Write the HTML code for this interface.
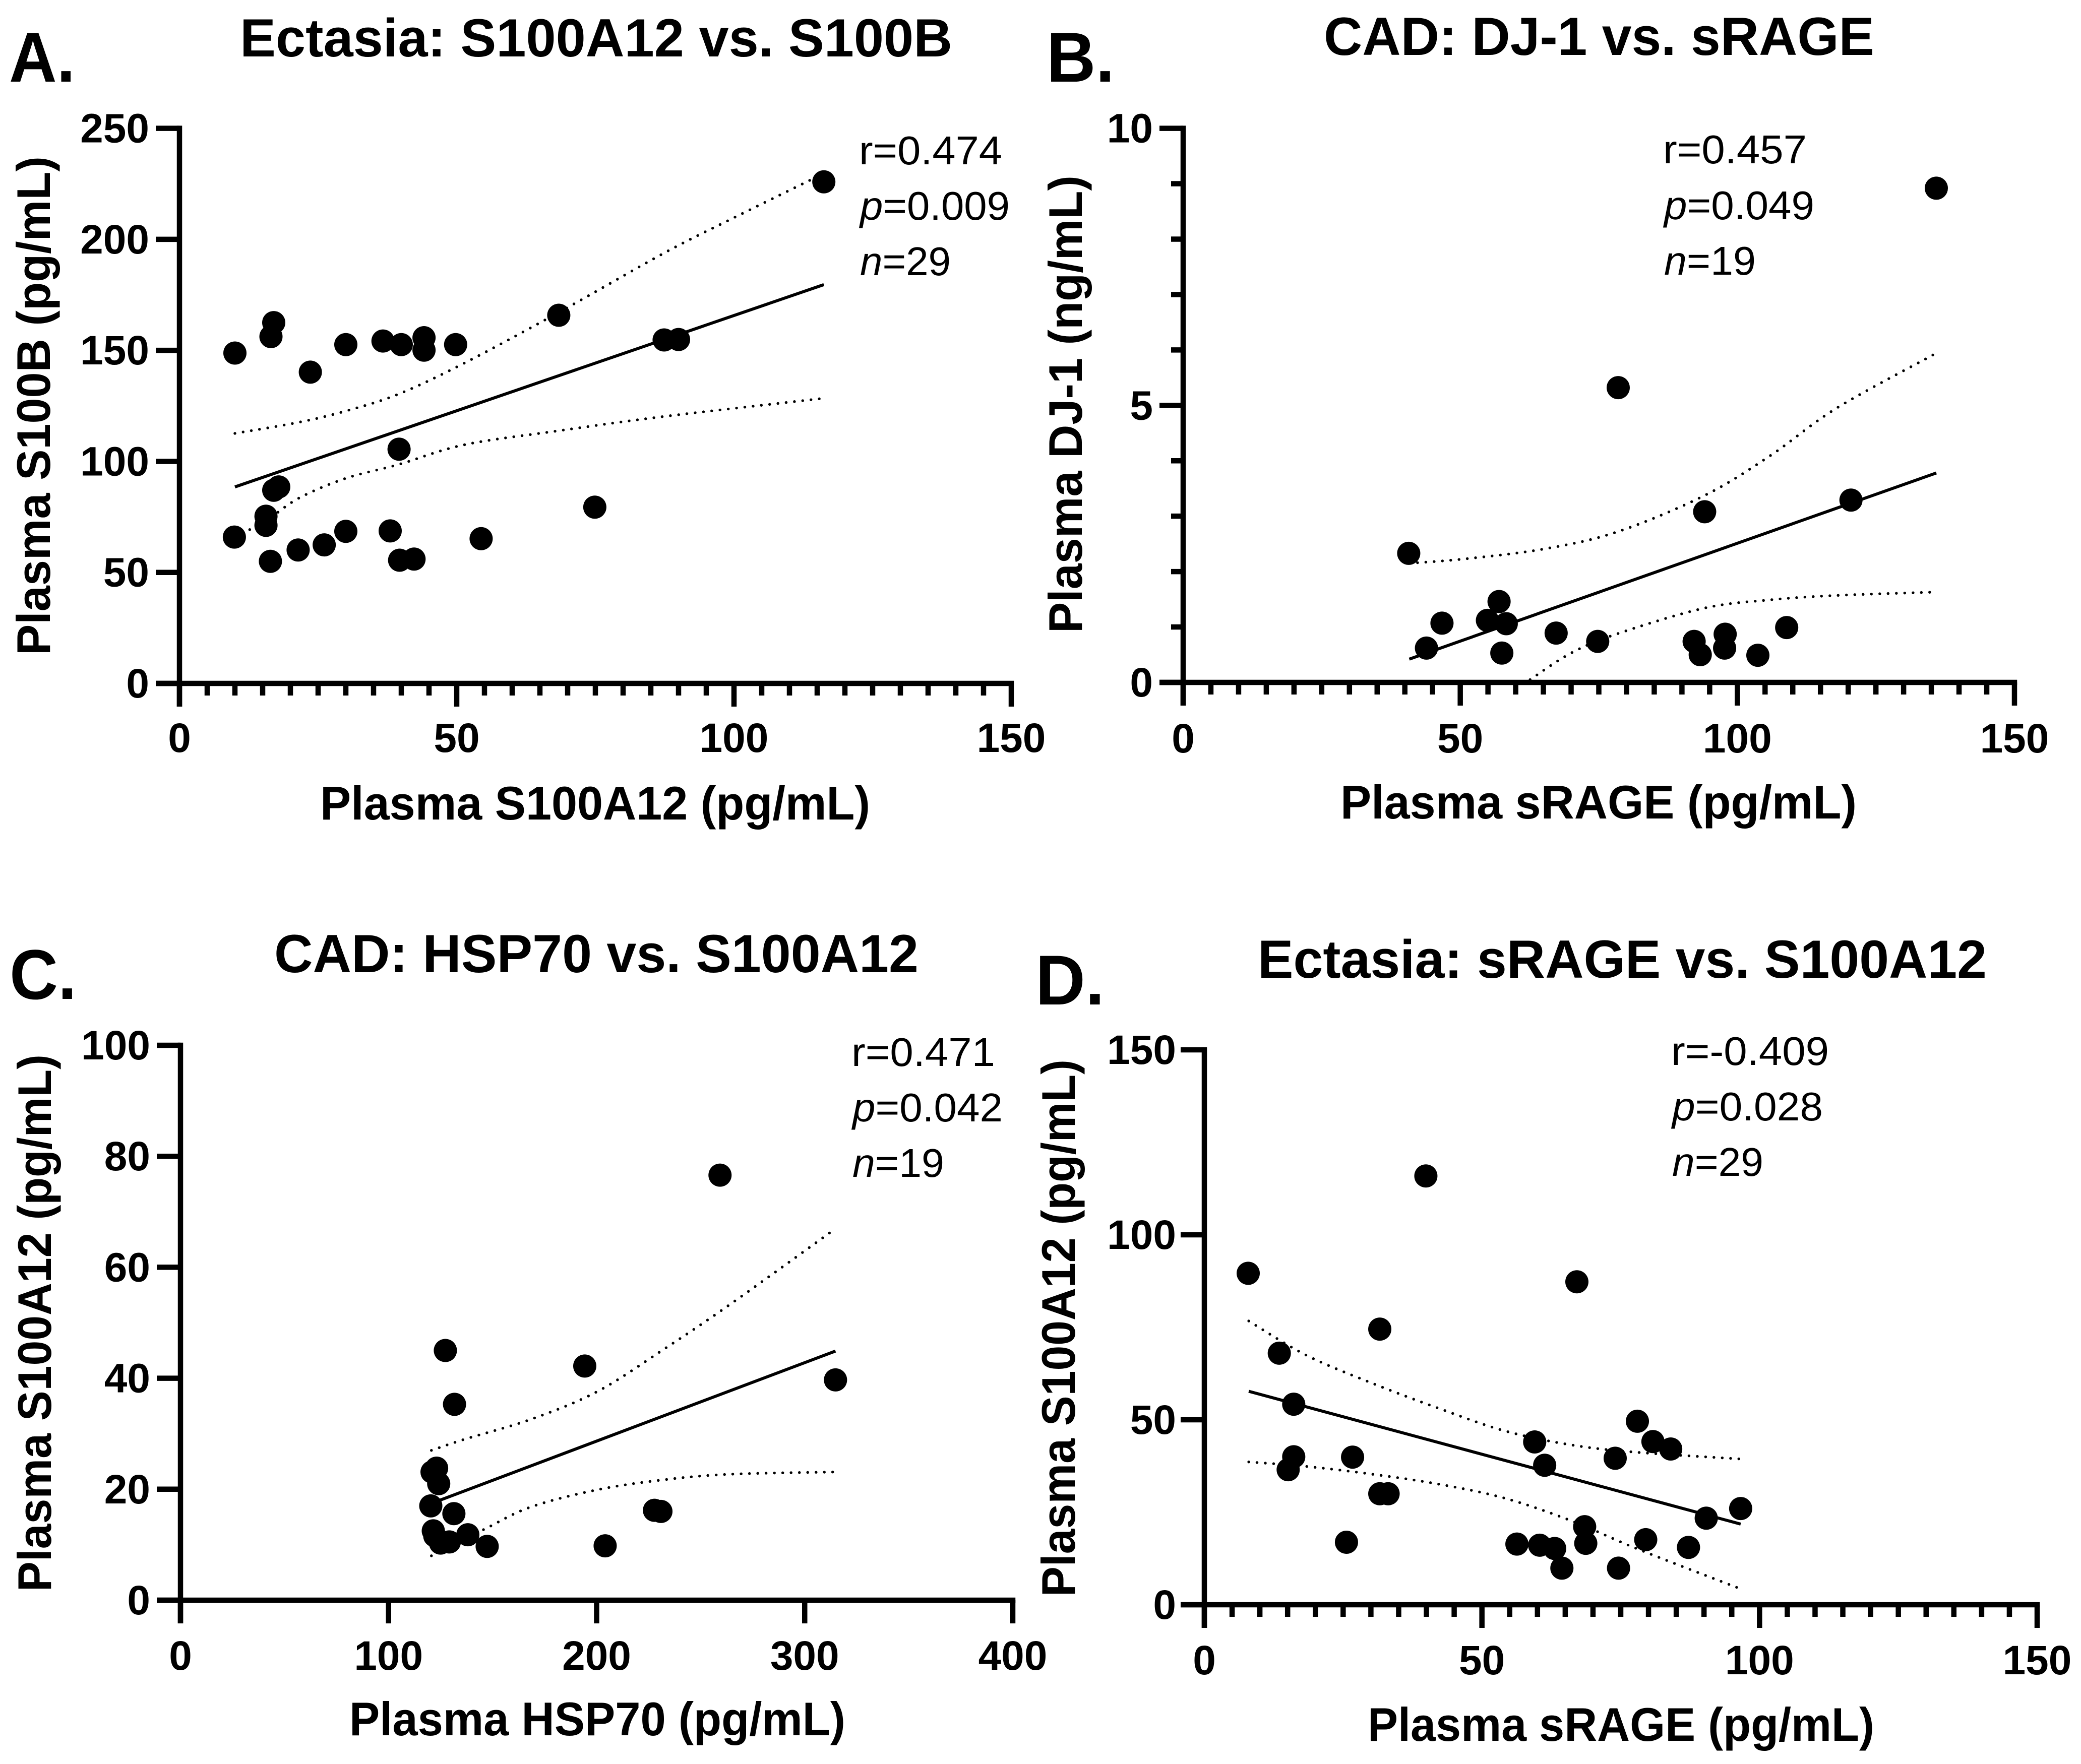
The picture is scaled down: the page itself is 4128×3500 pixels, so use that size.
<!DOCTYPE html>
<html lang="en">
<head>
<meta charset="utf-8">
<title>Plasma biomarker correlations</title>
<style>
html,body{margin:0;padding:0;background:#fff;}
svg{display:block;}
text{font-family:"Liberation Sans",sans-serif;fill:#000;}
.title{font-size:107px;font-weight:bold;}
.letter{font-size:140px;font-weight:bold;}
.axis-title{font-size:94px;font-weight:bold;}
.tick-label{font-size:82px;font-weight:bold;}
.stat{font-size:80px;}
.stat tspan{font-style:italic;}
</style>
</head>
<body>
<svg id="figure" xmlns="http://www.w3.org/2000/svg" width="4128" height="3500" viewBox="0 0 4128 3500">
<rect x="0" y="0" width="4128" height="3500" fill="#fff"/>

<text class="letter" x="18" y="162" textLength="131" lengthAdjust="spacingAndGlyphs">A.</text>
<text class="title" x="476" y="112" textLength="1413" lengthAdjust="spacingAndGlyphs">Ectasia: S100A12 vs. S100B</text>
<text class="axis-title" x="635" y="1626" textLength="1091" lengthAdjust="spacingAndGlyphs">Plasma S100A12 (pg/mL)</text>
<text class="axis-title" transform="translate(99,1300) rotate(-90)" textLength="990" lengthAdjust="spacingAndGlyphs">Plasma S100B (pg/mL)</text>
<text class="stat" x="1704" y="326" textLength="284" lengthAdjust="spacingAndGlyphs">r=0.474</text>
<text class="stat" x="1706" y="436" textLength="297" lengthAdjust="spacingAndGlyphs"><tspan>p</tspan>=0.009</text>
<text class="stat" x="1706" y="546" textLength="180" lengthAdjust="spacingAndGlyphs"><tspan>n</tspan>=29</text>

<text class="letter" x="2076" y="162" textLength="135" lengthAdjust="spacingAndGlyphs">B.</text>
<text class="title" x="2626" y="109" textLength="1092" lengthAdjust="spacingAndGlyphs">CAD: DJ-1 vs. sRAGE</text>
<text class="axis-title" x="2659" y="1624" textLength="1024" lengthAdjust="spacingAndGlyphs">Plasma sRAGE (pg/mL)</text>
<text class="axis-title" transform="translate(2146,1256) rotate(-90)" textLength="908" lengthAdjust="spacingAndGlyphs">Plasma DJ-1 (ng/mL)</text>
<text class="stat" x="3299" y="324" textLength="285" lengthAdjust="spacingAndGlyphs">r=0.457</text>
<text class="stat" x="3301" y="435" textLength="298" lengthAdjust="spacingAndGlyphs"><tspan>p</tspan>=0.049</text>
<text class="stat" x="3301" y="545" textLength="182" lengthAdjust="spacingAndGlyphs"><tspan>n</tspan>=19</text>

<text class="letter" x="19" y="1982" textLength="133" lengthAdjust="spacingAndGlyphs">C.</text>
<text class="title" x="544" y="1929" textLength="1278" lengthAdjust="spacingAndGlyphs">CAD: HSP70 vs. S100A12</text>
<text class="axis-title" x="693" y="3443" textLength="984" lengthAdjust="spacingAndGlyphs">Plasma HSP70 (pg/mL)</text>
<text class="axis-title" transform="translate(101,3158) rotate(-90)" textLength="1066" lengthAdjust="spacingAndGlyphs">Plasma S100A12 (pg/mL)</text>
<text class="stat" x="1689" y="2115" textLength="285" lengthAdjust="spacingAndGlyphs">r=0.471</text>
<text class="stat" x="1691" y="2225" textLength="298" lengthAdjust="spacingAndGlyphs"><tspan>p</tspan>=0.042</text>
<text class="stat" x="1691" y="2335" textLength="182" lengthAdjust="spacingAndGlyphs"><tspan>n</tspan>=19</text>

<text class="letter" x="2054" y="1993" textLength="137" lengthAdjust="spacingAndGlyphs">D.</text>
<text class="title" x="2495" y="1940" textLength="1446" lengthAdjust="spacingAndGlyphs">Ectasia: sRAGE vs. S100A12</text>
<text class="axis-title" x="2713" y="3454" textLength="1005" lengthAdjust="spacingAndGlyphs">Plasma sRAGE (pg/mL)</text>
<text class="axis-title" transform="translate(2132,3168) rotate(-90)" textLength="1066" lengthAdjust="spacingAndGlyphs">Plasma S100A12 (pg/mL)</text>
<text class="stat" x="3315" y="2113" textLength="313" lengthAdjust="spacingAndGlyphs">r=-0.409</text>
<text class="stat" x="3317" y="2223" textLength="299" lengthAdjust="spacingAndGlyphs"><tspan>p</tspan>=0.028</text>
<text class="stat" x="3317" y="2333" textLength="181" lengthAdjust="spacingAndGlyphs"><tspan>n</tspan>=29</text>
</svg>

<script>
// Panel A: Ectasia S100A12 vs S100B
const aX = [10,9.9,15.6,15.6,16.4,16.5,17,17,17.9,21.4,23.6,26.1,30,30,36.7,38,40,39.7,39.6,42.3,44.1,44.1,49.8,54.4,68.4,74.9,87.4,90,116.2];
const aY = [148.8,65.9,75.3,71.2,55,156.2,162.5,87,88.5,60.1,140.2,62.4,152.6,68.5,154.2,68.7,152.6,55.5,105.5,56,150.1,155.7,152.6,65.2,165.8,79.4,154.7,154.9,225.9];
const aFitX = [10,116.2];
const aFitY = [88.5,179.6];
const aUpperX = [10,21.5,30,39.5,51.4,68.4,87.3,99.3,115.8];
const aUpperY = [112.6,117.6,122.7,130.3,144.3,167.1,193.7,208.9,229.2];
const aLowerX = [10,15.6,21.5,29.9,39.5,51.4,68.4,87.3,115.8];
const aLowerY = [65.9,73.3,83.4,92.3,98.6,107.5,113.8,120.2,128.3];
const aXTicks = [0,50,100,150];
const aYTicks = [0,50,100,150,200,250];

// Panel B: CAD DJ-1 vs sRAGE
const bX = [40.7,43.9,46.7,54.9,57,58.3,57.5,67.3,74.8,78.5,92.2,93.3,94.1,97.8,97.7,103.7,108.9,120.5,135.9];
const bY = [2.33,0.62,1.07,1.12,1.46,1.06,0.53,0.89,0.74,5.32,0.74,0.5,3.08,0.87,0.62,0.49,0.99,3.29,8.92];
const bFitX = [40.8,135.9];
const bFitY = [0.42,3.78];
const bUpperX = [40.8,50.9,65.2,78.4,94,105.9,117.9,135.3];
const bUpperY = [2.15,2.23,2.41,2.72,3.37,4.09,4.95,5.91];
const bLowerX = [62.6,70,78.4,94,105.9,117.9,135.6];
const bLowerY = [0.05,0.53,0.88,1.34,1.49,1.57,1.63];
const bXTicks = [0,50,100,150];
const bYTicks = [0,5,10];

// Panel C: CAD HSP70 vs S100A12
const cX = [127.3,131.7,194.3,259.3,314.8,123.1,120.9,124.1,120.3,131.4,121.5,122.2,125,129.2,138.1,147.4,204.1,227.8,230.9];
const cY = [45,35.3,42.2,76.6,39.7,23.8,23.1,21,17,15.6,12.5,11.6,10.3,10.5,11.8,9.7,9.8,16.2,16];
const cFitX = [121,314.8];
const cFitY = [17.5,44.9];
const cUpperX = [120.6,136.5,168.4,200.3,232.2,264.1,312];
const cUpperY = [27,29,32.6,37.6,45.2,53.3,66.2];
const cLowerX = [120.6,146.1,168.4,200.3,232.2,264.1,313.6];
const cLowerY = [8,12.8,16.8,19.9,21.7,22.7,23.1];
const cXTicks = [0,100,200,300,400];
const cYTicks = [0,20,40,60,80,100];

// Panel D: Ectasia sRAGE vs S100A12
const dX = [7.9,13.5,16.1,16.1,15.1,25.6,26.7,31.6,31.6,33.1,39.9,56.3,59.5,60.4,61.3,63.1,64.4,67.1,68.5,68.7,74,74.6,78,79.5,80.8,84,87.2,90.4,96.6];
const dY = [89.6,68,54.2,40,36.5,16.9,39.9,74.5,30,30,115.9,16.4,44,16.1,37.7,15.2,9.9,87.3,21.1,16.6,39.6,9.9,49.6,17.6,44.1,42.1,15.5,23.4,26];
const dFitX = [8,96.6];
const dFitY = [57.7,21.8];
const dUpperX = [8,18.3,30.2,42.2,54.1,66.1,78,96.6];
const dUpperY = [76.7,67.5,59.9,53.1,47,43.2,41.2,39.4];
const dLowerX = [8,18.3,30.2,42.2,54.1,66.1,78,96.4];
const dLowerY = [38.6,37.4,35.3,32.6,28.8,22.7,15.1,4.4];
const dXTicks = [0,50,100,150];
const dYTicks = [0,50,100,150];

const NS = 'http://www.w3.org/2000/svg';
const figure = document.getElementById('figure');

function mk(tag, attrs) {
  const el = document.createElementNS(NS, tag);
  for (const k in attrs) el.setAttribute(k, attrs[k]);
  figure.appendChild(el);
  return el;
}

function smoothPath(pts) {
  let d = 'M' + pts[0][0] + ' ' + pts[0][1];
  for (let i = 0; i < pts.length - 1; i++) {
    const p0 = pts[Math.max(i - 1, 0)];
    const p1 = pts[i];
    const p2 = pts[i + 1];
    const p3 = pts[Math.min(i + 2, pts.length - 1)];
    const c1x = p1[0] + (p2[0] - p0[0]) / 6;
    const c1y = p1[1] + (p2[1] - p0[1]) / 6;
    const c2x = p2[0] - (p3[0] - p1[0]) / 6;
    const c2y = p2[1] - (p3[1] - p1[1]) / 6;
    d += 'C' + c1x + ' ' + c1y + ' ' + c2x + ' ' + c2y + ' ' + p2[0] + ' ' + p2[1];
  }
  return d;
}

function drawPanel(p) {
  const sx = v => p.left + (v / p.xMax) * (p.right - p.left);
  const sy = v => p.bottom - (v / p.yMax) * (p.bottom - p.top);
  const id = p.id;

  // confidence bands
  [['upper', p.upperX, p.upperY], ['lower', p.lowerX, p.lowerY]].forEach(function (band) {
    const pts = band[1].map((v, i) => [sx(v), sy(band[2][i])]);
    const path = mk('path', {d: smoothPath(pts), fill: 'none', stroke: '#000', 'stroke-width': 5.5, 'stroke-linecap': 'round', 'stroke-dasharray': '0 16.5'});
    
    
  });

  // regression line
  const fit = mk('line', {x1: sx(p.fitX[0]), y1: sy(p.fitY[0]), x2: sx(p.fitX[1]), y2: sy(p.fitY[1]), stroke: '#000', 'stroke-width': 6});
  
  

  // points
  p.x.forEach(function (v, i) {
    const c = mk('circle', {cx: sx(v), cy: sy(p.y[i]), r: 23, fill: '#000'});
    
    
  });

  // axes
  const sw = 10.5;
  const yAxis = mk('line', {x1: p.left, y1: p.top - sw / 2, x2: p.left, y2: p.bottom + 46, stroke: '#000', 'stroke-width': sw});
  
  
  const xAxis = mk('line', {x1: p.left - 47, y1: p.bottom, x2: p.right + sw / 2, y2: p.bottom, stroke: '#000', 'stroke-width': sw});
  
  

  // x ticks
  p.xTicks.forEach(function (v) {
    const t = mk('line', {x1: sx(v), y1: p.bottom, x2: sx(v), y2: p.bottom + 46, stroke: '#000', 'stroke-width': sw});
    
    
    const l = mk('text', {x: sx(v), y: p.xLabelY, 'text-anchor': 'middle', class: 'tick-label'});
    l.textContent = v;
    
    
  });

  // y ticks
  p.yTicks.forEach(function (v) {
    const t = mk('line', {x1: p.left, y1: sy(v), x2: p.left - 47, y2: sy(v), stroke: '#000', 'stroke-width': sw});
    
    
    const l = mk('text', {x: p.yLabelX, y: sy(v) + 28, 'text-anchor': 'end', class: 'tick-label'});
    l.textContent = v;
    
    
  });

  // minor ticks
  if (p.xMinorStep) {
    for (let v = p.xMinorStep; v < p.xMax; v += p.xMinorStep) {
      if (p.xTicks.indexOf(v) >= 0) continue;
      const t = mk('line', {x1: sx(v), y1: p.bottom, x2: sx(v), y2: p.bottom + 24, stroke: '#000', 'stroke-width': sw});
      
      
    }
  }
  if (p.yMinorStep) {
    for (let v = p.yMinorStep; v < p.yMax; v += p.yMinorStep) {
      if (p.yTicks.indexOf(v) >= 0) continue;
      const t = mk('line', {x1: p.left, y1: sy(v), x2: p.left - 24, y2: sy(v), stroke: '#000', 'stroke-width': sw});
      
      
    }
  }
}

drawPanel({id: 'a', left: 356, right: 2006, top: 254.6, bottom: 1356, xMax: 150, yMax: 250, xLabelY: 1492, yLabelX: 296, xMinorStep: 5, yMinorStep: 0,
  x: aX, y: aY, fitX: aFitX, fitY: aFitY, upperX: aUpperX, upperY: aUpperY, lowerX: aLowerX, lowerY: aLowerY, xTicks: aXTicks, yTicks: aYTicks});
drawPanel({id: 'b', left: 2347, right: 3996, top: 254.6, bottom: 1354, xMax: 150, yMax: 10, xLabelY: 1493, yLabelX: 2287, xMinorStep: 5, yMinorStep: 1,
  x: bX, y: bY, fitX: bFitX, fitY: bFitY, upperX: bUpperX, upperY: bUpperY, lowerX: bLowerX, lowerY: bLowerY, xTicks: bXTicks, yTicks: bYTicks});
drawPanel({id: 'c', left: 358, right: 2009, top: 2074, bottom: 3175, xMax: 400, yMax: 100, xLabelY: 3313, yLabelX: 298, xMinorStep: 0, yMinorStep: 0,
  x: cX, y: cY, fitX: cFitX, fitY: cFitY, upperX: cUpperX, upperY: cUpperY, lowerX: cLowerX, lowerY: cLowerY, xTicks: cXTicks, yTicks: cYTicks});
drawPanel({id: 'd', left: 2389, right: 4041, top: 2083, bottom: 3184, xMax: 150, yMax: 150, xLabelY: 3322, yLabelX: 2333, xMinorStep: 5, yMinorStep: 0,
  x: dX, y: dY, fitX: dFitX, fitY: dFitY, upperX: dUpperX, upperY: dUpperY, lowerX: dLowerX, lowerY: dLowerY, xTicks: dXTicks, yTicks: dYTicks});
</script>
</body>
</html>
